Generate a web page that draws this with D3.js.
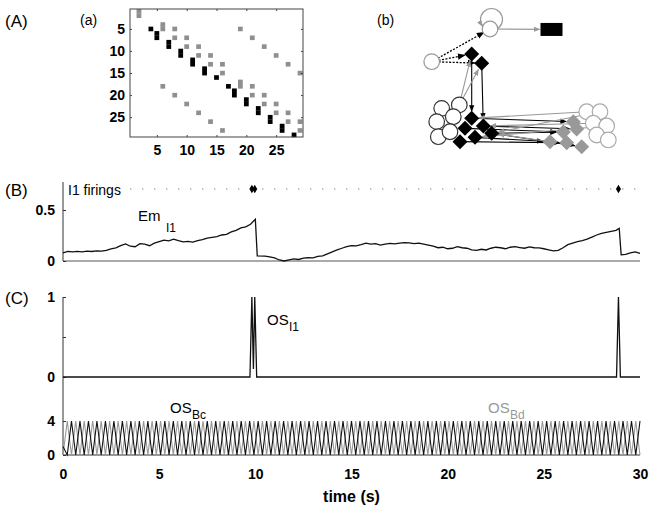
<!DOCTYPE html>
<html>
<head>
<meta charset="utf-8">
<script src="https://cdn.jsdelivr.net/npm/d3@7"></script>
<style>
  body { margin: 0; background: #fff; }
  svg { display: block; font-family: "Liberation Sans", Arial, sans-serif; }
  .tick-label { font-weight: bold; font-size: 14px; }
</style>
</head>
<body>
<svg id="canvas"></svg>
<script>
// ---- data ----
// (a) connection matrix, [row, col]
let blackCells = [[5,4],[6,5],[7,5],[8,7],[9,7],[10,9],[11,9],[12,11],[13,11],[14,13],[15,13],[16,15],
  [18,17],[19,18],[20,18],[21,20],[22,20],[23,22],[24,22],[25,24],[26,24],[27,26],[28,26],[29,28]];
let grayCells = [[1,2],[2,2],[4,6],[5,6],[5,8],[7,8],[7,10],[9,10],[9,12],[11,12],[11,14],[13,14],[13,16],[15,16],
  [5,19],[7,21],[9,23],[11,25],[13,27],[15,29],[17,19],[18,19],[18,21],[20,21],[20,23],[22,23],[22,25],[24,25],
  [24,27],[26,27],[26,29],[28,29],[18,6],[20,8],[22,10],[24,12],[26,14],[28,16]];
let matrixTicks = [5, 10, 15, 20, 25];

// (b) network, layout units 0-100
let netNodes = [
  {id: "osc", shape: "circle", color: "#999", x: 35, y: 18.7},
  {id: "out", shape: "square", color: "#000", x: 65.75, y: 19},
  {id: "ext", shape: "circle", color: "#999", x: 5.85, y: 39.8},
  {id: "d1", shape: "diamond", color: "#000", x: 25.85, y: 34.8},
  {id: "d2", shape: "diamond", color: "#000", x: 30.85, y: 40.8},
  {id: "R1", shape: "circle", color: "#aaa", x: 83.35, y: 72.1},
  {id: "R2", shape: "circle", color: "#aaa", x: 90, y: 72.1},
  {id: "R3", shape: "circle", color: "#aaa", x: 86.65, y: 79.5},
  {id: "R4", shape: "circle", color: "#aaa", x: 93.35, y: 81.3},
  {id: "R5", shape: "circle", color: "#aaa", x: 88.35, y: 87.1},
  {id: "R6", shape: "circle", color: "#aaa", x: 94.15, y: 90.3},
  {id: "G1", shape: "diamond", color: "#999", x: 76.65, y: 78.5},
  {id: "G2", shape: "diamond", color: "#999", x: 78.35, y: 83.2},
  {id: "G3", shape: "diamond", color: "#999", x: 71.65, y: 85.2},
  {id: "G4", shape: "diamond", color: "#999", x: 65, y: 91.4},
  {id: "G5", shape: "diamond", color: "#999", x: 73.35, y: 92.1},
  {id: "G6", shape: "diamond", color: "#999", x: 80.85, y: 94.6},
  {id: "L1", shape: "circle", color: "#333", x: 10.85, y: 69.9},
  {id: "L2", shape: "circle", color: "#333", x: 19.65, y: 67.7},
  {id: "L3", shape: "circle", color: "#333", x: 8.35, y: 78.5},
  {id: "L4", shape: "circle", color: "#333", x: 16.65, y: 75.3},
  {id: "L5", shape: "circle", color: "#333", x: 9.15, y: 88.2},
  {id: "L6", shape: "circle", color: "#333", x: 15, y: 85},
  {id: "B1", shape: "diamond", color: "#000", x: 25.85, y: 76.3},
  {id: "B2", shape: "diamond", color: "#000", x: 22.5, y: 82.8},
  {id: "B3", shape: "diamond", color: "#000", x: 31.65, y: 81.3},
  {id: "B4", shape: "diamond", color: "#000", x: 35.85, y: 86},
  {id: "B5", shape: "diamond", color: "#000", x: 20, y: 91.4},
  {id: "B6", shape: "diamond", color: "#000", x: 27.5, y: 88.6}
];
let netEdges = [
  ["ext", "osc", "dot"], ["ext", "d1", "dot"], ["ext", "d2", "dot"],
  ["osc", "out", "gray"],
  ["d1", "B1", "black"], ["d2", "B3", "black"],
  ["L2", "d1", "gray"], ["L2", "d2", "gray"],
  ["B1", "G1", "black"], ["B3", "G2", "black"], ["B4", "G3", "black"], ["B6", "G4", "black"],
  ["B5", "G5", "black"], ["B4", "G6", "black"], ["B2", "G3", "black"],
  ["R1", "B1", "gray"], ["R3", "B3", "gray"], ["R2", "B4", "gray"], ["R4", "B6", "gray"], ["G4", "B4", "gray"]
];

// (B) membrane potential of I1
let emTime = [0,0.25,0.5,0.75,1,1.25,1.5,1.75,2,2.25,2.5,2.75,3,3.25,3.5,3.75,4,4.25,4.5,4.75,
  5,5.25,5.5,5.75,6,6.25,6.5,6.75,7,7.25,7.5,7.75,8,8.25,8.5,8.75,9,9.25,9.5,9.75,10,10.1,
  10.5,10.75,11,11.25,11.5,11.75,12,12.25,12.5,12.75,13,13.25,13.5,13.75,14,14.25,14.5,14.75,
  15,15.25,15.5,15.75,16,16.25,16.5,16.75,17,17.25,17.5,17.75,18,18.25,18.5,18.75,19,19.25,19.5,19.75,
  20,20.25,20.5,20.75,21,21.25,21.5,21.75,22,22.25,22.5,22.75,23,23.25,23.5,23.75,24,24.25,24.5,24.75,
  25,25.25,25.5,25.75,26,26.25,26.5,26.75,27,27.25,27.5,27.75,28,28.25,28.5,28.75,28.92,29.02,
  29.25,29.5,29.75,30];
let emValue = [0.080,0.095,0.090,0.094,0.090,0.097,0.093,0.100,0.096,0.104,0.120,0.128,0.150,0.168,0.145,0.140,0.170,0.165,0.150,0.175,
  0.190,0.205,0.198,0.215,0.200,0.188,0.192,0.185,0.200,0.210,0.225,0.232,0.240,0.255,0.262,0.285,0.300,0.325,0.335,0.360,0.410,0.050,
  0.048,0.040,0.030,0.010,0.000,0.012,0.020,0.015,0.028,0.032,0.030,0.045,0.050,0.070,0.090,0.110,0.125,0.140,
  0.150,0.148,0.160,0.175,0.165,0.170,0.155,0.165,0.172,0.168,0.175,0.180,0.178,0.170,0.175,0.165,0.155,0.145,0.130,0.135,
  0.120,0.125,0.140,0.130,0.125,0.110,0.105,0.115,0.108,0.125,0.135,0.130,0.120,0.135,0.140,0.132,0.125,0.138,0.130,0.128,
  0.120,0.110,0.100,0.105,0.130,0.160,0.175,0.190,0.200,0.215,0.235,0.255,0.270,0.280,0.290,0.300,0.320,0.060,
  0.065,0.080,0.090,0.075];
let firingTimes = [9.82, 9.97, 28.88];
let emTicks = [0, 0.5];

// (C) output signals
let osI1Time = [0, 9.72, 9.82, 9.9, 9.97, 10.07, 28.78, 28.88, 28.98, 30];
let osI1Value = [0, 0, 1, 0.1, 1, 0, 0, 1, 0, 0];
let oscStep = 30 / 136;
let osBc = [1,
  0,4,0,4,0,4,0,4, 0,4,0,4,0,4,0,4, 0,4,0,4,0,4,0,4, 0,4,0,4,0,4,0,4,
  0,4,0,4,0,4,0,4, 0,4,0,4,0,4,0,4, 0,4,0,4,0,4,0,4, 0,4,0,4,0,4,0,4,
  0,4,0,4,0,4,0,4, 0,4,0,4,0,4,0,4, 0,4,0,4,0,4,0,4, 0,4,0,4,0,4,0,4,
  0,4,0,4,0,4,0,4, 0,4,0,4,0,4,0,4, 0,4,0,4,0,4,0,4, 0,4,0,4,0,4,0,4,
  0,4,0,4,0,4,0,4];
let osBd = [0,
  4,0,4,0,4,0,4,0, 4,0,4,0,4,0,4,0, 4,0,4,0,4,0,4,0, 4,0,4,0,4,0,4,0,
  4,0,4,0,4,0,4,0, 4,0,4,0,4,0,4,0, 4,0,4,0,4,0,4,0, 4,0,4,0,4,0,4,0,
  4,0,4,0,4,0,4,0, 4,0,4,0,4,0,4,0, 4,0,4,0,4,0,4,0, 4,0,4,0,4,0,4,0,
  4,0,4,0,4,0,4,0, 4,0,4,0,4,0,4,0, 4,0,4,0,4,0,4,0, 4,0,4,0,4,0,4,0,
  4,0,4,0,4,0,4,0];
let timeTicks = [0, 5, 10, 15, 20, 25, 30];

// ---- layout ----
let width = 654;
let height = 507;

let canvas = d3.select("#canvas").attr("width", width).attr("height", height);

let addText = (x, y, str, size, opts = {}) => {
  return canvas.append("text")
    .attr("x", x).attr("y", y)
    .attr("font-size", size)
    .attr("font-weight", opts.bold ? "bold" : "normal")
    .attr("text-anchor", opts.anchor || "start")
    .attr("fill", opts.fill || "#000")
    .text(str);
};

// ---- (a) matrix ----
let mx = d3.scaleLinear().domain([0.5, 29.5]).range([130, 303]);
let my = d3.scaleLinear().domain([0.5, 29.5]).range([9, 137]);

let drawMatrix = () => {
  let g = canvas.append("g");
  let cell = (cells, color) => {
    g.selectAll(null).data(cells).enter().append("rect")
      .attr("x", d => mx(d[1] - 0.4))
      .attr("y", d => my(d[0] - 0.5))
      .attr("width", mx(0.8) - mx(0))
      .attr("height", my(1) - my(0) + 0.2)
      .attr("fill", color);
  };
  cell(grayCells, "#8f8f8f");
  cell(blackCells, "#000");

  g.append("rect")
    .attr("x", mx(0.5)).attr("y", my(0.5))
    .attr("width", mx(29.5) - mx(0.5)).attr("height", my(29.5) - my(0.5))
    .attr("fill", "none").attr("stroke", "#444").attr("stroke-width", 1);

  let axL = d3.axisLeft(my).tickValues(matrixTicks).tickSize(-2).tickPadding(5);
  let axB = d3.axisBottom(mx).tickValues(matrixTicks).tickSize(-2).tickPadding(8);
  let axT = d3.axisTop(mx).tickValues(matrixTicks).tickSize(-2).tickFormat("");
  let axR = d3.axisRight(my).tickValues(matrixTicks).tickSize(-2).tickFormat("");
  [[axL, `translate(${mx(0.5)},0)`], [axB, `translate(0,${my(29.5)})`],
   [axT, `translate(0,${my(0.5)})`], [axR, `translate(${mx(29.5)},0)`]].forEach(([ax, tr]) => {
    let a = g.append("g").attr("transform", tr).call(ax);
    a.select(".domain").remove();
    a.selectAll("line").attr("stroke", "#444");
    a.selectAll("text").attr("class", "tick-label").attr("font-family", null).attr("font-size", null);
  });
};

// ---- (b) network ----
let nx = d3.scaleLinear().domain([0, 100]).range([420, 620]);
let ny = d3.scaleLinear().domain([0, 100]).range([0, 155]);

let drawNetwork = () => {
  let defs = canvas.append("defs");
  [["arrBlack", "#000"], ["arrGray", "#999"]].forEach(([id, c]) => {
    defs.append("marker").attr("id", id)
      .attr("viewBox", "0 0 10 10").attr("refX", 9).attr("refY", 5)
      .attr("markerWidth", 6).attr("markerHeight", 6).attr("orient", "auto")
      .append("path").attr("d", "M0,1 L10,5 L0,9 Z").attr("fill", c);
  });

  let byId = {};
  netNodes.forEach(n => byId[n.id] = n);
  let g = canvas.append("g");

  // self loop on the oscillator node
  let osc = byId["osc"];
  g.append("circle")
    .attr("cx", nx(osc.x) + 1.5).attr("cy", ny(osc.y) - 9.5).attr("r", 11)
    .attr("fill", "none").attr("stroke", "#999").attr("stroke-width", 1.2);
  g.append("path")
    .attr("d", `M${nx(osc.x) - 11},${ny(osc.y) - 8} L${nx(osc.x) - 8},${ny(osc.y) - 3}`)
    .attr("stroke", "#999").attr("marker-end", "url(#arrGray)");

  g.selectAll(null).data(netEdges).enter().append("line")
    .each(function (e) {
      let s = byId[e[0]], t = byId[e[1]];
      let x1 = nx(s.x), y1 = ny(s.y), x2 = nx(t.x), y2 = ny(t.y);
      let len = Math.hypot(x2 - x1, y2 - y1);
      let cut = t.shape === "square" ? 12 : 7;
      d3.select(this)
        .attr("x1", x1).attr("y1", y1)
        .attr("x2", x2 - (x2 - x1) / len * cut)
        .attr("y2", y2 - (y2 - y1) / len * cut);
    })
    .attr("stroke", e => e[2] === "gray" ? "#999" : "#000")
    .attr("stroke-width", e => e[2] === "dot" ? 1.3 : 1.1)
    .attr("stroke-dasharray", e => e[2] === "dot" ? "2,1.5" : null)
    .attr("marker-end", e => e[2] === "gray" ? "url(#arrGray)" : "url(#arrBlack)");

  let nodes = g.selectAll(null).data(netNodes).enter();
  nodes.filter(d => d.shape === "circle").append("circle")
    .attr("cx", d => nx(d.x)).attr("cy", d => ny(d.y)).attr("r", 7.8)
    .attr("fill", "#fff").attr("stroke", d => d.color).attr("stroke-width", 1.2);
  nodes.filter(d => d.shape === "diamond").append("rect")
    .attr("x", -5.3).attr("y", -5.3).attr("width", 10.6).attr("height", 10.6)
    .attr("transform", d => `translate(${nx(d.x)},${ny(d.y)}) rotate(45)`)
    .attr("fill", d => d.color);
  nodes.filter(d => d.shape === "square").append("rect")
    .attr("x", d => nx(d.x) - 11).attr("y", d => ny(d.y) - 6.5)
    .attr("width", 22).attr("height", 13)
    .attr("fill", "#000");
};

// ---- (B) and (C) time traces ----
let xT = d3.scaleLinear().domain([0, 30]).range([63, 640]);
let yB = d3.scaleLinear().domain([0, 0.5]).range([261, 210]);
let firingY = 189;
let yC1 = d3.scaleLinear().domain([0, 1]).range([377, 297]);
let yC2 = d3.scaleLinear().domain([0, 4]).range([455, 421]);

let styleAxis = (a) => {
  a.select(".domain").remove();
  a.selectAll("line").attr("stroke", "#333");
  a.selectAll("text").attr("class", "tick-label").attr("font-family", null).attr("font-size", null);
};

let drawTraces = () => {
  // (B)
  let gB = canvas.append("g");
  gB.append("line").attr("x1", xT(0)).attr("x2", xT(0)).attr("y1", 182).attr("y2", yB(0))
    .attr("stroke", "#333");
  gB.append("line").attr("x1", xT(0)).attr("x2", xT(30)).attr("y1", yB(0)).attr("y2", yB(0))
    .attr("stroke", "#555");
  styleAxis(gB.append("g").attr("transform", `translate(${xT(0)},0)`)
    .call(d3.axisLeft(yB).tickValues(emTicks).tickSize(-3).tickPadding(8).tickFormat(d3.format("~g"))));

  gB.append("line").attr("x1", 130).attr("x2", xT(30)).attr("y1", firingY).attr("y2", firingY)
    .attr("stroke", "#aaa").attr("stroke-width", 1.4).attr("stroke-dasharray", "1.4,10.6");
  gB.selectAll(null).data(firingTimes).enter().append("path")
    .attr("d", d3.symbol(d3.symbolDiamond, 22))
    .attr("transform", d => `translate(${xT(d)},${firingY})`)
    .attr("fill", "#000");

  let em = emTime.map((t, i) => [t, emValue[i]]);
  gB.append("path").datum(em)
    .attr("d", d3.line().x(d => xT(d[0])).y(d => yB(d[1])))
    .attr("fill", "none").attr("stroke", "#111").attr("stroke-width", 1.3);

  // (C)
  let gC = canvas.append("g");
  gC.append("line").attr("x1", xT(0)).attr("x2", xT(0)).attr("y1", yC1(1)).attr("y2", yC2(0))
    .attr("stroke", "#333");
  gC.append("line").attr("x1", xT(0)).attr("x2", xT(30)).attr("y1", yC2(0)).attr("y2", yC2(0))
    .attr("stroke", "#333");
  styleAxis(gC.append("g").attr("transform", `translate(${xT(0)},0)`)
    .call(d3.axisLeft(yC1).tickValues([0, 0.5, 1]).tickSize(-3).tickPadding(8)
      .tickFormat(d => d === 0.5 ? "" : d3.format("d")(d))));
  styleAxis(gC.append("g").attr("transform", `translate(${xT(0)},0)`)
    .call(d3.axisLeft(yC2).tickValues([0, 4]).tickSize(-3).tickPadding(8).tickFormat(d3.format("d"))));
  styleAxis(gC.append("g").attr("transform", `translate(0,${yC2(0)})`)
    .call(d3.axisBottom(xT).tickValues(timeTicks).tickSize(0).tickPadding(14)));

  let os = osI1Time.map((t, i) => [t, osI1Value[i]]);
  gC.append("path").datum(os)
    .attr("d", d3.line().x(d => xT(d[0])).y(d => yC1(d[1])))
    .attr("fill", "none").attr("stroke", "#111").attr("stroke-width", 1.3);

  let oscLine = d3.line().x((d, i) => xT(i * oscStep)).y(d => yC2(d));
  gC.append("path").datum(osBd).attr("d", oscLine)
    .attr("fill", "none").attr("stroke", "#999").attr("stroke-width", 1.1);
  gC.append("path").datum(osBc).attr("d", oscLine)
    .attr("fill", "none").attr("stroke", "#111").attr("stroke-width", 1.1);
};

drawMatrix();
drawNetwork();
drawTraces();

// ---- labels ----
addText(5, 27, "(A)", 17);
addText(80, 25, "(a)", 14);
addText(377, 25, "(b)", 14);
addText(5, 196, "(B)", 17);
addText(5, 304, "(C)", 17);
addText(68, 195, "I1 firings", 14);
addText(138, 221, "Em", 15);
addText(166, 232, "I1", 12);
addText(267, 325, "OS", 15);
addText(289, 331, "I1", 12);
addText(170, 413, "OS", 15);
addText(192, 419, "Bc", 12);
addText(488, 413, "OS", 15, {fill: "#999"});
addText(510, 419, "Bd", 12, {fill: "#999"});
addText(xT(15), 502, "time (s)", 16, {bold: true, anchor: "middle"});
</script>
</body>
</html>
